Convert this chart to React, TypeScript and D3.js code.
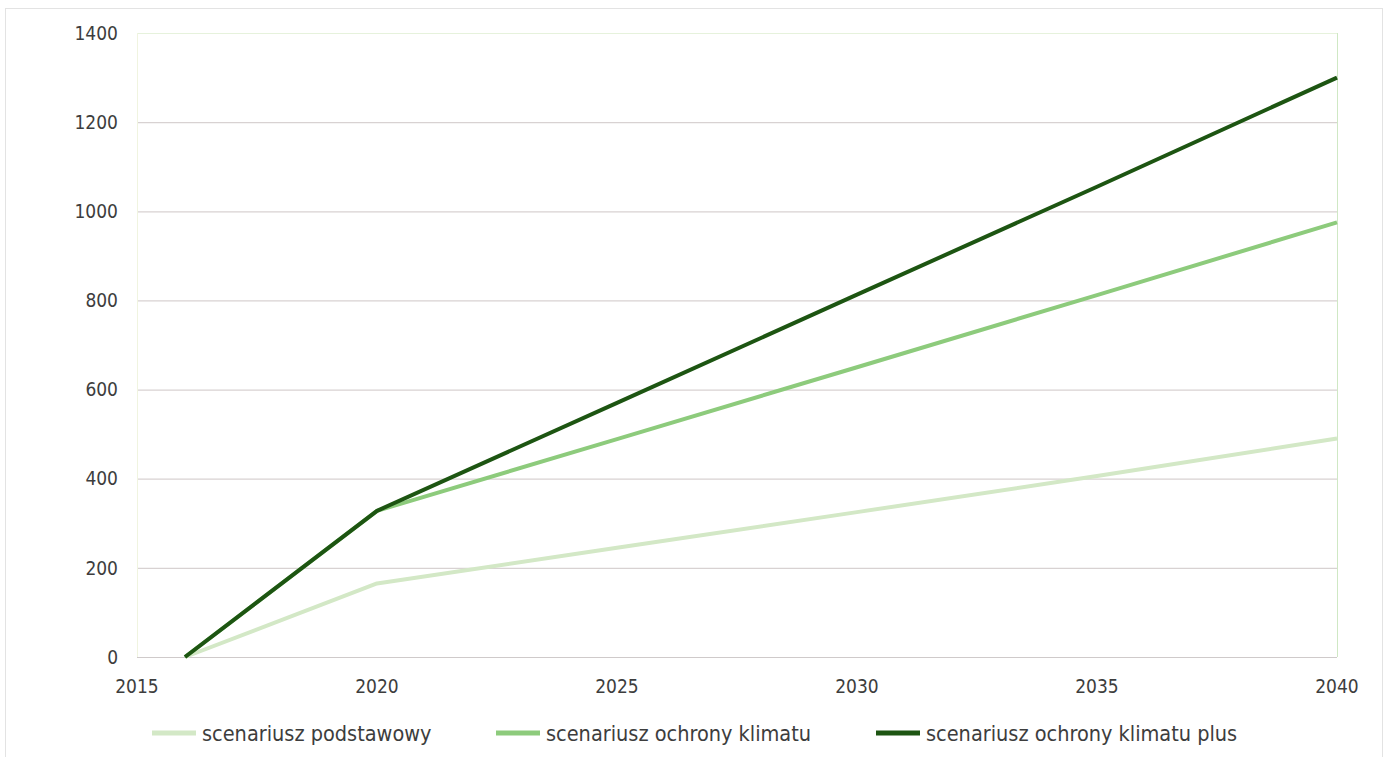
import React, { useEffect, useRef } from "react";
import * as d3 from "d3";

const years = [2016, 2020, 2025, 2030, 2035, 2040];
const podstawowy = [0, 165, 245, 325, 406, 490];
const ochronyKlimatu = [0, 328, 489, 650, 812, 975];
const ochronyKlimatuPlus = [0, 328, 570, 813, 1055, 1300];
const xTicks = [2015, 2020, 2025, 2030, 2035, 2040];
const yTicks = [0, 200, 400, 600, 800, 1000, 1200, 1400];

const seriesNames = [
  "scenariusz podstawowy",
  "scenariusz ochrony klimatu",
  "scenariusz ochrony klimatu plus",
];
const seriesColors = ["#d3e8c6", "#8dcb7c", "#1d5512"];

const W = 1390;
const H = 757;
const FONT = "'DejaVu Sans Condensed', 'DejaVu Sans', sans-serif";

const App = () => {
  const ref = useRef<SVGSVGElement>(null);

  useEffect(() => {
    const svg = d3.select(ref.current);
    svg.selectAll("*").remove();

    const x = d3.scaleLinear().domain([2015, 2040]).range([137, 1337]);
    const y = d3.scaleLinear().domain([0, 1400]).range([657, 33]);

    // outer frame
    svg
      .append("rect")
      .attr("x", 5.5)
      .attr("y", 8.5)
      .attr("width", 1377)
      .attr("height", 760)
      .attr("fill", "#fff")
      .attr("stroke", "#e3e3e3");

    // grid
    svg
      .append("g")
      .selectAll("line")
      .data(yTicks.filter((d) => d > 0 && d < 1400))
      .join("line")
      .attr("x1", x(2015))
      .attr("x2", x(2040))
      .attr("y1", (d) => y(d) + 0.5)
      .attr("y2", (d) => y(d) + 0.5)
      .attr("stroke", "#d8d2d2")
      .attr("stroke-width", 1.2);

    // plot border
    svg
      .append("line")
      .attr("x1", x(2015)).attr("x2", x(2040))
      .attr("y1", y(1400) + 0.5).attr("y2", y(1400) + 0.5)
      .attr("stroke", "#e6f2dc");
    svg
      .append("line")
      .attr("x1", x(2015) + 0.5).attr("x2", x(2015) + 0.5)
      .attr("y1", y(1400)).attr("y2", y(0))
      .attr("stroke", "#f0f4e0");
    svg
      .append("line")
      .attr("x1", x(2040) + 0.5).attr("x2", x(2040) + 0.5)
      .attr("y1", y(1400)).attr("y2", y(0))
      .attr("stroke", "#cfe8c4");
    svg
      .append("line")
      .attr("x1", x(2015)).attr("x2", x(2040))
      .attr("y1", y(0) + 0.5).attr("y2", y(0) + 0.5)
      .attr("stroke", "#cfcaca")
      .attr("stroke-width", 1.2);

    // y labels
    svg
      .append("g")
      .selectAll("text")
      .data(yTicks)
      .join("text")
      .attr("x", 118)
      .attr("y", (d) => y(d))
      .attr("dy", "0.35em")
      .attr("text-anchor", "end")
      .attr("font-family", FONT)
      .attr("font-size", 19)
      .attr("fill", "#3d3d3d")
      .text((d) => d);

    // x labels
    svg
      .append("g")
      .selectAll("text")
      .data(xTicks)
      .join("text")
      .attr("x", (d) => x(d))
      .attr("y", 693)
      .attr("text-anchor", "middle")
      .attr("font-family", FONT)
      .attr("font-size", 19)
      .attr("fill", "#3d3d3d")
      .text((d) => d);

    const line = d3
      .line<number>()
      .x((_, i) => x(years[i]))
      .y((d) => y(d));

    [podstawowy, ochronyKlimatu, ochronyKlimatuPlus].forEach((s, i) => {
      svg
        .append("path")
        .attr("d", line(s))
        .attr("fill", "none")
        .attr("stroke", seriesColors[i])
        .attr("stroke-width", 4)
        .attr("stroke-linejoin", "round");
    });

    // legend
    const legendX = [152, 496, 876];
    const lg = svg
      .append("g")
      .selectAll("g")
      .data(seriesNames)
      .join("g")
      .attr("transform", (_, i) => `translate(${legendX[i]},733)`);
    lg.append("line")
      .attr("x1", 0)
      .attr("x2", 44)
      .attr("stroke", (_, i) => seriesColors[i])
      .attr("stroke-width", 5);
    lg.append("text")
      .attr("x", 50)
      .attr("dy", "0.35em")
      .attr("font-family", FONT)
      .attr("font-size", 21.5)
      .attr("fill", "#3d3d3d")
      .text((d) => d);
  }, []);

  return (
    <svg
      ref={ref}
      width={W}
      height={H}
      style={{ position: "absolute", left: 0, top: 0 }}
    />
  );
};

export default App;
